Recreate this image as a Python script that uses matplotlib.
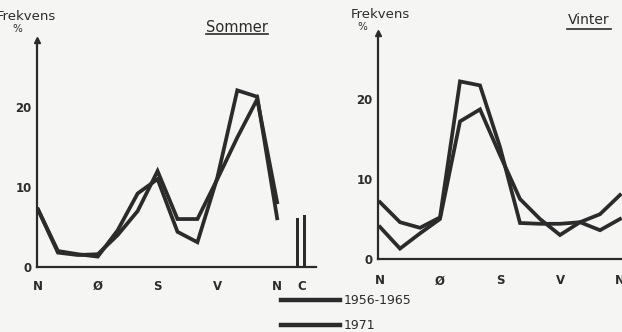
import matplotlib
matplotlib.use("Agg")
import matplotlib.pyplot as plt
from matplotlib.lines import Line2D

# 12 wind directions (every 30 degrees), N .. N
directions = list(range(13))
tick_pos = [0, 3, 6, 9, 12]
tick_labels = ["N", "Ø", "S", "V", "N"]

# Summer (Sommer)
summer_1956_1965 = [7.2, 2.0, 1.6, 1.3, 4.6, 9.2, 11.0, 4.4, 3.1, 11.2, 22.1, 21.3, 6.1]
summer_1971 = [7.2, 1.8, 1.5, 1.6, 4.0, 7.0, 12.0, 6.0, 6.0, 11.0, 16.2, 21.0, 8.1]
summer_calm = [6.1, 6.5]          # C (calm) for 1956-1965 and 1971

# Winter (Vinter)
winter_1956_1965 = [7.1, 4.6, 3.9, 5.2, 22.2, 21.7, 14.0, 4.5, 4.4, 4.4, 4.6, 5.6, 8.0]
winter_1971 = [4.0, 1.3, 3.2, 5.0, 17.2, 18.7, 13.0, 7.5, 5.0, 3.0, 4.6, 3.6, 5.0]

series_labels = ["1956-1965", "1971"]

W, H = 622, 332
BG = "#f5f5f3"
INK = "#2b2b2b"
LW = 2.7

fig = plt.figure(figsize=(W / 100, H / 100), dpi=100, facecolor=BG)


def px_axes(x0, y_top, x1, y_bot):
    return fig.add_axes([x0 / W, 1 - y_bot / H, (x1 - x0) / W, (y_bot - y_top) / H])


def style(ax, xlim, ylim, xpad):
    ax.set_facecolor("none")
    ax.set_xlim(*xlim)
    ax.set_ylim(*ylim)
    for s in ("top", "right"):
        ax.spines[s].set_visible(False)
    for s in ("left", "bottom"):
        ax.spines[s].set_color(INK)
        ax.spines[s].set_linewidth(1.6)
    ax.set_yticks([0, 10, 20])
    ax.set_yticklabels(["0", "10", "20"], fontsize=8.5, color=INK, fontweight="bold")
    ax.tick_params(axis="y", length=0, pad=4)
    ax.tick_params(axis="x", length=0, pad=xpad)
    # arrow at the top of the y axis
    ax.plot([0], [1], marker="^", ms=5, color=INK, transform=ax.transAxes, clip_on=False)


# ---- Summer panel ----
ax1 = px_axes(37, 40, 316, 267)
style(ax1, (-0.05, 13.95), (0, 28.4), 9)
ax1.plot(directions, summer_1956_1965, color=INK, lw=LW, solid_joinstyle="miter")
ax1.plot(directions, summer_1971, color=INK, lw=LW, solid_joinstyle="miter")
ax1.bar([13.03, 13.37], summer_calm, width=0.17, color=INK)
ax1.set_xticks(tick_pos + [13.25])
ax1.set_xticklabels(tick_labels + ["C"], fontsize=8.5, color=INK, fontweight="bold")
ax1.text(56 / W, 1 - 17 / H, "Frekvens", transform=fig.transFigure, ha="right", va="center",
         fontsize=9.5, color=INK)
ax1.text(12 / W, 1 - 29 / H, "%", transform=fig.transFigure, ha="left", va="center",
         fontsize=7.5, color=INK)
ax1.text(237 / W, 1 - 27 / H, "Sommer", transform=fig.transFigure, ha="center", va="center",
         fontsize=10.5, color=INK)
fig.add_artist(Line2D([206 / W, 268 / W], [1 - 34 / H, 1 - 34 / H], color=INK, lw=1.2))

# ---- Winter panel ----
ax2 = px_axes(378, 33, 622, 259)
style(ax2, (-0.1, 12.1), (0, 28.25), 11)
ax2.plot(directions, winter_1956_1965, color=INK, lw=LW, solid_joinstyle="miter")
ax2.plot(directions, winter_1971, color=INK, lw=LW, solid_joinstyle="miter")
ax2.set_xticks(tick_pos)
ax2.set_xticklabels(tick_labels, fontsize=8.5, color=INK, fontweight="bold")
ax2.text(380 / W, 1 - 14 / H, "Frekvens", transform=fig.transFigure, ha="center", va="center",
         fontsize=9.5, color=INK)
ax2.text(362 / W, 1 - 27 / H, "%", transform=fig.transFigure, ha="center", va="center",
         fontsize=7.5, color=INK)
ax2.text(589 / W, 1 - 20 / H, "Vinter", transform=fig.transFigure, ha="center", va="center",
         fontsize=10, color=INK)
fig.add_artist(Line2D([567 / W, 611 / W], [1 - 29 / H, 1 - 29 / H], color=INK, lw=1.2))

# ---- Legend ----
handles = [Line2D([], [], color=INK, lw=LW + 0.5) for _ in series_labels]
fig.legend(handles, series_labels, loc="upper left", bbox_to_anchor=(281 / W, 1 - 294 / H),
           frameon=False, fontsize=9, handlelength=4.7, handletextpad=0.3,
           labelspacing=0.95, borderpad=0, borderaxespad=0, labelcolor=INK)

fig.savefig("out.png", dpi=100, facecolor=BG)
